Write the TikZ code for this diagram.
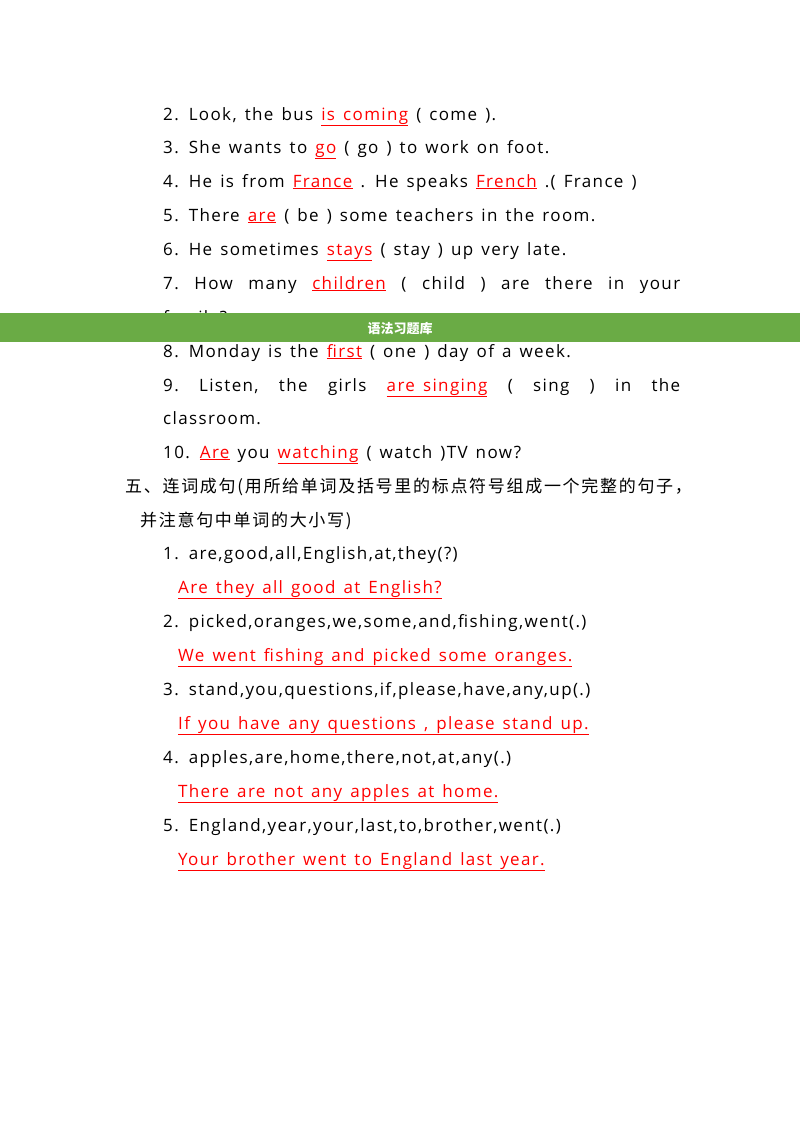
\documentclass[tikz,border=0pt]{standalone}
\usepackage{fontspec}
\setmainfont{Open Sans}[LetterSpace=8,WordSpace=1.4]
\newfontfamily\cjk{Noto Sans CJK SC}
\newfontfamily\cjkw{Noto Sans CJK SC}[LetterSpace=10]
\definecolor{barg}{HTML}{6AAB45}
\newcommand{\ans}[1]{\textcolor{red}{\underline{#1}}}
\begin{document}
\begin{tikzpicture}[x=1pt,y=-1pt,
  ln/.style={anchor=base west,inner sep=0pt,font=\fontsize{17}{20}\selectfont}]
\useasboundingbox (0,0) rectangle (800,1132);
\node[ln] (l2) at (163,120) {2. Look, the bus \ans{is coming} ( come ).};
\node[ln] (l3) at (163,153) {3. She wants to \ans{go} ( go ) to work on foot.};
\node[ln] (l4) at (163,187) {4. He is from \ans{France} . He speaks \ans{French} .( France )};
\node[ln] (l5) at (163,221) {5. There \ans{are} ( be ) some teachers in the room.};
\node[ln] (l6) at (163,255) {6. He sometimes \ans{stays} ( stay ) up very late.};
\node[ln] (l7) at (163,289) {\makebox[517pt][s]{7.\hfill How\hfill many\hfill \ans{children}\hfill (\hfill child\hfill )\hfill are\hfill there\hfill in\hfill your}};
\node[ln] (l7b) at (163,323) {family?};
\fill[barg] (0,313) rectangle (800,342);
\node[text=white,font=\cjk\bfseries\fontsize{13}{15}\selectfont] (bar) at (400,329) {语法习题库};
\node[ln] (l8) at (163,357) {8. Monday is the \ans{first} ( one ) day of a week.};
\node[ln] (l9) at (163,391) {\makebox[517pt][s]{9.\hfill Listen,\hfill the\hfill girls\hfill \ans{are\ singing}\hfill (\hfill sing\hfill )\hfill in\hfill the}};
\node[ln] (l9b) at (163,424) {classroom.};
\node[ln] (l10) at (163,458) {10. \ans{Are} you \ans{watching} ( watch )TV now?};
\node[ln,font=\cjkw\fontsize{17}{20}\selectfont] (h5) at (125,492) {五、连词成句(用所给单词及括号里的标点符号组成一个完整的句子，};
\node[ln,font=\cjkw\fontsize{17}{20}\selectfont] (h5b) at (140,526) {并注意句中单词的大小写)};
\node[ln] (q1) at (163,559) {1. are,good,all,English,at,they(?)};
\node[ln] (a1) at (178,593) {\ans{Are they all good at English?}};
\node[ln] (q2) at (163,627) {2. picked,oranges,we,some,and,fishing,went(.)};
\node[ln] (a2) at (178,661) {\ans{We went fishing and picked some oranges.}};
\node[ln] (q3) at (163,695) {3. stand,you,questions,if,please,have,any,up(.)};
\node[ln] (a3) at (178,729) {\ans{If you have any questions , please stand up.}};
\node[ln] (q4) at (163,763) {4. apples,are,home,there,not,at,any(.)};
\node[ln] (a4) at (178,797) {\ans{There are not any apples at home.}};
\node[ln] (q5) at (163,831) {5. England,year,your,last,to,brother,went(.)};
\node[ln] (a5) at (178,865) {\ans{Your brother went to England last year.}};
\end{tikzpicture}
\end{document}
